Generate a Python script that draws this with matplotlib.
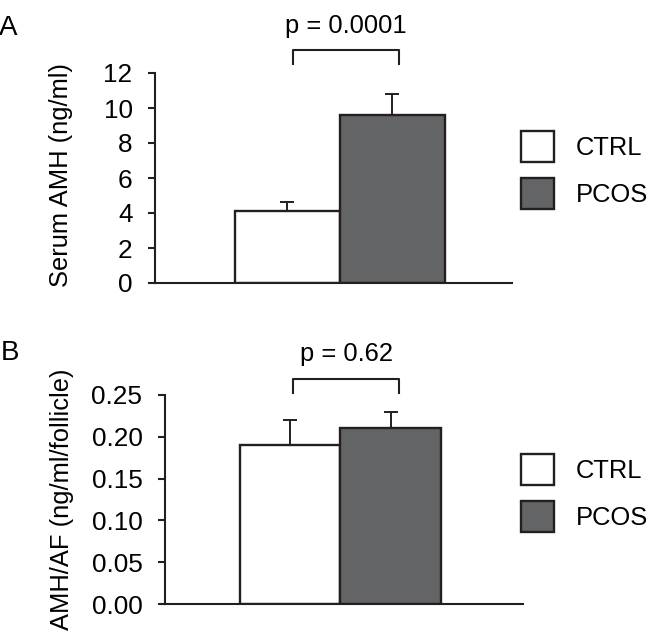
import matplotlib
matplotlib.use("Agg")
import matplotlib.pyplot as plt
from matplotlib.patches import Patch

plt.rcParams["font.family"] = ["Liberation Sans", "DejaVu Sans"]

GROUPS = ["CTRL", "PCOS"]

AMH_MEAN = [4.1, 9.6]
AMH_ERR = [0.55, 1.2]
AMH_TICKS = [0, 2, 4, 6, 8, 10, 12]

RATIO_MEAN = [0.19, 0.21]
RATIO_ERR = [0.03, 0.02]
RATIO_TICKS = [0.00, 0.05, 0.10, 0.15, 0.20, 0.25]

CTRL_COLOR = "white"
PCOS_COLOR = "#636466"
EDGE = "#231f20"
FS = 18.4

W, H = 652, 637


def px_box(left, top, right, bottom):
    return [left / W, 1 - bottom / H, (right - left) / W, (bottom - top) / H]


def draw_panel(ax, means, errs, ticks, xlim, fmt, bracket, ptext):
    x = [0, 1]
    ax.bar(x, means, width=1.0, color=[CTRL_COLOR, PCOS_COLOR],
           edgecolor=EDGE, linewidth=1.7, zorder=2)
    ax.errorbar(x, means, yerr=[[0, 0], errs], fmt="none", ecolor=EDGE,
                elinewidth=1.4, capsize=5.2, capthick=1.4, zorder=1)
    ax.set_xlim(*xlim)
    ax.set_ylim(ticks[0], ticks[-1])
    ax.set_yticks(ticks)
    ax.set_yticklabels([fmt.format(t) for t in ticks], fontsize=18.8)
    ax.set_xticks([])
    for s in ("top", "right"):
        ax.spines[s].set_visible(False)
    for s in ("left", "bottom"):
        ax.spines[s].set_linewidth(1.5)
        ax.spines[s].set_color(EDGE)
    ax.tick_params(axis="y", length=5.2, width=1.5, pad=11.0, color=EDGE)

    x0, x1, ytop, ybot = bracket
    ax.plot([x0, x0, x1, x1], [ybot, ytop, ytop, ybot], color=EDGE,
            linewidth=1.5, clip_on=False)
    ax.text((x0 + x1) / 2, ptext[0], ptext[1], ha="center", va="baseline",
            fontsize=FS, transform=ax.transData, clip_on=False)

    handles = [Patch(facecolor=CTRL_COLOR, edgecolor=EDGE, linewidth=1.7, label=GROUPS[0]),
               Patch(facecolor=PCOS_COLOR, edgecolor=EDGE, linewidth=1.7, label=GROUPS[1])]
    return handles


def add_legend(fig, handles, top_px):
    fig.legend(handles=handles, loc="upper left",
               bbox_to_anchor=(521 / W, 1 - top_px / H),
               bbox_transform=fig.transFigure, frameon=False, fontsize=FS,
               handlelength=1.3, handleheight=1.5, labelspacing=0.6,
               handletextpad=0.85, borderpad=0, borderaxespad=0)


fig = plt.figure(figsize=(W / 100, H / 100), dpi=100)

# panel A
axA = fig.add_axes(px_box(155, 73, 512, 283))
hA = draw_panel(axA, AMH_MEAN, AMH_ERR, AMH_TICKS, (-1.26, 2.14), "{:g}",
                (0.05, 1.06, 13.31, 12.51), (14.3, "p = 0.0001"))
fig.text(61 / W, 1 - 175 / H, "Serum AMH (ng/ml)", rotation=90,
         ha="center", va="center", fontsize=FS)
fig.text(-1 / W, 1 - 28 / H, "A", ha="left", va="center", fontsize=20)
add_legend(fig, hA, 131)

# panel B
axB = fig.add_axes(px_box(165, 395, 523, 604))
hB = draw_panel(axB, RATIO_MEAN, RATIO_ERR, RATIO_TICKS, (-1.246, 2.316), "{:.2f}",
                (0.03, 1.08, 0.269, 0.252), (0.2905, "p = 0.62"))
fig.text(62 / W, 1 - 499 / H, "AMH/AF (ng/ml/follicle)", rotation=90,
         ha="center", va="center", fontsize=FS)
fig.text(1 / W, 1 - 353 / H, "B", ha="left", va="center", fontsize=20)
add_legend(fig, hB, 454)

fig.savefig("out.png", dpi=100)
